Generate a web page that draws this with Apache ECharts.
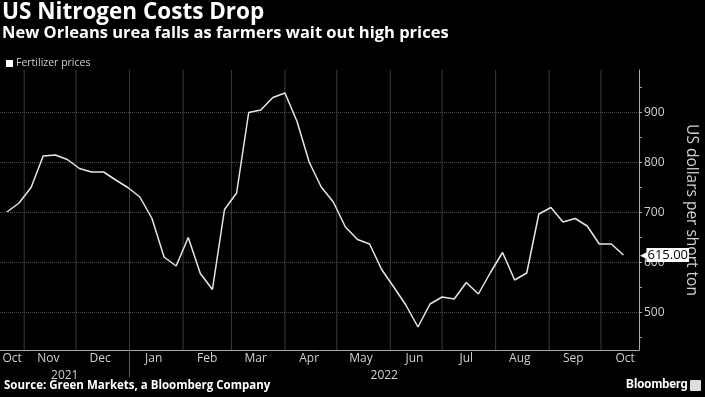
<!DOCTYPE html>
<html><head><meta charset="utf-8">
<script src="https://cdn.jsdelivr.net/npm/echarts@6/dist/echarts.min.js"></script>
<style>html,body{margin:0;padding:0;background:#000}#c{width:705px;height:397px}</style>
</head><body><div id="c"></div>
<script>
// ---- data ----
const dates = ['2021-10-22','2021-10-29','2021-11-05','2021-11-12','2021-11-19','2021-11-26',
 '2021-12-03','2021-12-10','2021-12-17','2021-12-24','2021-12-31',
 '2022-01-07','2022-01-14','2022-01-21','2022-01-28',
 '2022-02-04','2022-02-11','2022-02-18','2022-02-25',
 '2022-03-04','2022-03-11','2022-03-18','2022-03-25',
 '2022-04-01','2022-04-08','2022-04-15','2022-04-22','2022-04-29',
 '2022-05-06','2022-05-13','2022-05-20','2022-05-27',
 '2022-06-03','2022-06-10','2022-06-17','2022-06-24',
 '2022-07-01','2022-07-08','2022-07-15','2022-07-22','2022-07-29',
 '2022-08-05','2022-08-12','2022-08-19','2022-08-26',
 '2022-09-02','2022-09-09','2022-09-16','2022-09-23','2022-09-30',
 '2022-10-07','2022-10-14'];
const prices = [701,719,750,813,815,806,788,781,781,765,750,
 731,688,611,593,
 650,578,546,706,
 739,900,905,930,
 939,882,801,751,721,
 671,646,637,586,
 551,515,471,517,
 531,527,560,537,580,
 620,565,579,697,
 710,681,688,673,637,
 637,615];
const monthStarts = ['2021-11-01','2021-12-01','2022-01-01','2022-02-01','2022-03-01','2022-04-01',
 '2022-05-01','2022-06-01','2022-07-01','2022-08-01','2022-09-01','2022-10-01'];
const monthLabelDates = ['2021-10-25','2021-11-15','2021-12-15','2022-01-15','2022-02-15','2022-03-15',
 '2022-04-15','2022-05-15','2022-06-15','2022-07-15','2022-08-15','2022-09-15','2022-10-15'];
const monthLabels = ['Oct','Nov','Dec','Jan','Feb','Mar','Apr','May','Jun','Jul','Aug','Sep','Oct'];
const yearLabels = ['2021','2022'];
const yearBoundary = '2022-01-01';
const yTickLabels = [500,600,700,800,900];
const yMinorTicks = [450,500,550,600,650,700,750,800,850,900,950];

// ---- build ----
const t = s => Date.parse(s);
const xMin = t('2021-10-18'), xMax = t('2022-10-23');
const yMin = 425, yMax = 985;
const yb = t(yearBoundary);
const yearCenters = [(xMin + yb) / 2, (yb + xMax) / 2];
const seriesData = dates.map((d, i) => [t(d), prices[i]]);
const labelVals = monthLabelDates.map(t);
const tickVals = monthStarts.map(t);

const gridColor = '#4a4a4a';
const axisColor = '#aaa';
const textColor = '#d0d0d0';

// vertical month-start gridlines as line series running through the axis scales
const gridSeries = tickVals.map(v => ({
  type: 'line', silent: true, z: 1, symbol: 'none', showSymbol: false,
  xAxisIndex: 0, yAxisIndex: 0, animation: false, legendHoverLink: false, clip: false,
  lineStyle: {color: '#3c3c3c', width: 1, type: 'solid'},
  emphasis: {disabled: true}, tooltip: {show: false},
  data: [[v, yMin], [v, yMax]]
}));

const chart = echarts.init(document.getElementById('c'), null, {renderer: 'canvas'});
chart.setOption({
  backgroundColor: '#000',
  animation: false,
  textStyle: {fontFamily: 'Open Sans'},
  grid: {left: 0, right: 66, top: 70, bottom: 47, containLabel: false, outerBoundsMode: 'none'},
  legend: {
    left: 1, top: 53, itemWidth: 7, itemHeight: 7, itemGap: 4, icon: 'rect',
    textStyle: {color: '#cfcfcf', fontSize: 10.5, fontFamily: 'Open Sans', padding: [0,0,0,-2]},
    data: ['Fertilizer prices']
  },
  xAxis: [
    { // axis line
      type: 'value', min: xMin, max: xMax, position: 'bottom',
      axisLine: {show: true, lineStyle: {color: axisColor, width: 1}},
      axisTick: {show: false},
      axisLabel: {show: false},
      splitLine: {show: false}
    },
    { // month labels
      type: 'value', min: xMin, max: xMax, position: 'bottom',
      axisLine: {show: false}, axisTick: {show: false}, splitLine: {show: false},
      axisLabel: {
        show: true, customValues: labelVals, margin: 3, color: textColor, fontSize: 12,
        fontFamily: 'Open Sans',
        formatter: v => { const i = labelVals.indexOf(v); return i >= 0 ? monthLabels[i] : ''; }
      }
    },
    { // year labels + divider
      type: 'value', min: xMin, max: xMax, position: 'bottom',
      axisLine: {show: false}, splitLine: {show: false},
      axisTick: {show: true, customValues: [yb], length: 27, lineStyle: {color: '#5a5a5a', width: 1}},
      axisLabel: {
        show: true, customValues: yearCenters, margin: 20, color: textColor, fontSize: 12,
        fontFamily: 'Open Sans',
        formatter: v => { const i = yearCenters.indexOf(v); return i >= 0 ? yearLabels[i] : ''; }
      }
    }
  ],
  yAxis: [
    {
      type: 'value', min: yMin, max: yMax, position: 'right',
      axisLine: {show: true, lineStyle: {color: axisColor}},
      axisTick: {show: true, customValues: yMinorTicks, length: 3, lineStyle: {color: axisColor}},
      axisLabel: {show: true, customValues: yTickLabels, margin: 5, color: textColor, fontSize: 12, fontFamily: 'Open Sans'},
      splitLine: {show: false},
      name: 'US dollars per short ton', nameLocation: 'middle', nameRotate: -90, nameGap: 44,
      nameTextStyle: {color: textColor, fontSize: 15.5, fontFamily: 'Open Sans'}
    },
    {
      type: 'value', min: yMin, max: yMax, position: 'right',
      axisLine: {show: false}, axisLabel: {show: false},
      axisTick: {show: true, length: 0.01, customValues: yTickLabels, lineStyle: {color: gridColor}},
      splitLine: {show: true, lineStyle: {color: gridColor, width: 1, type: 'dotted'}}
    }
  ],
  series: gridSeries.concat([{
    name: 'Fertilizer prices', type: 'line', data: seriesData,
    showSymbol: false, symbol: 'none', xAxisIndex: 0, yAxisIndex: 0, z: 3,
    lineStyle: {color: '#e6e6e6', width: 1.5},
    itemStyle: {color: '#ffffff'},
    endLabel: {
      show: true, distance: 17,
      formatter: p => '{a|◀}{b|' + p.value[1].toFixed(2) + '}',
      rich: {
        a: {color: '#fff', fontSize: 9, padding: [0, -1, 0, 0]},
        b: {backgroundColor: '#fff', color: '#000', fontSize: 13, padding: [1, 1, 0, 1], fontFamily: 'Open Sans'}
      }
    }
  }]),
  graphic: [
    {type: 'text', left: 2, top: 1, style: {text: 'US Nitrogen Costs Drop', fill: '#fff', font: 'bold 22.5px "Open Sans"'}},
    {type: 'text', left: 2, top: 25, style: {text: 'New Orleans urea falls as farmers wait out high prices', fill: '#fff', font: 'bold 16.5px "Open Sans"'}},
    {type: 'text', left: 4, top: 380, style: {text: 'Source: Green Markets, a Bloomberg Company', fill: '#fff', font: 'bold 11.5px "Open Sans"'}},
    {type: 'text', left: 626, top: 378, style: {text: 'Bloomberg', fill: '#fff', font: 'bold 12.5px Roboto'}},
    {type: 'rect', left: 690, top: 380, shape: {width: 11, height: 11, r: 1}, style: {fill: '#ddd'}}
  ]
});
</script></body></html>
